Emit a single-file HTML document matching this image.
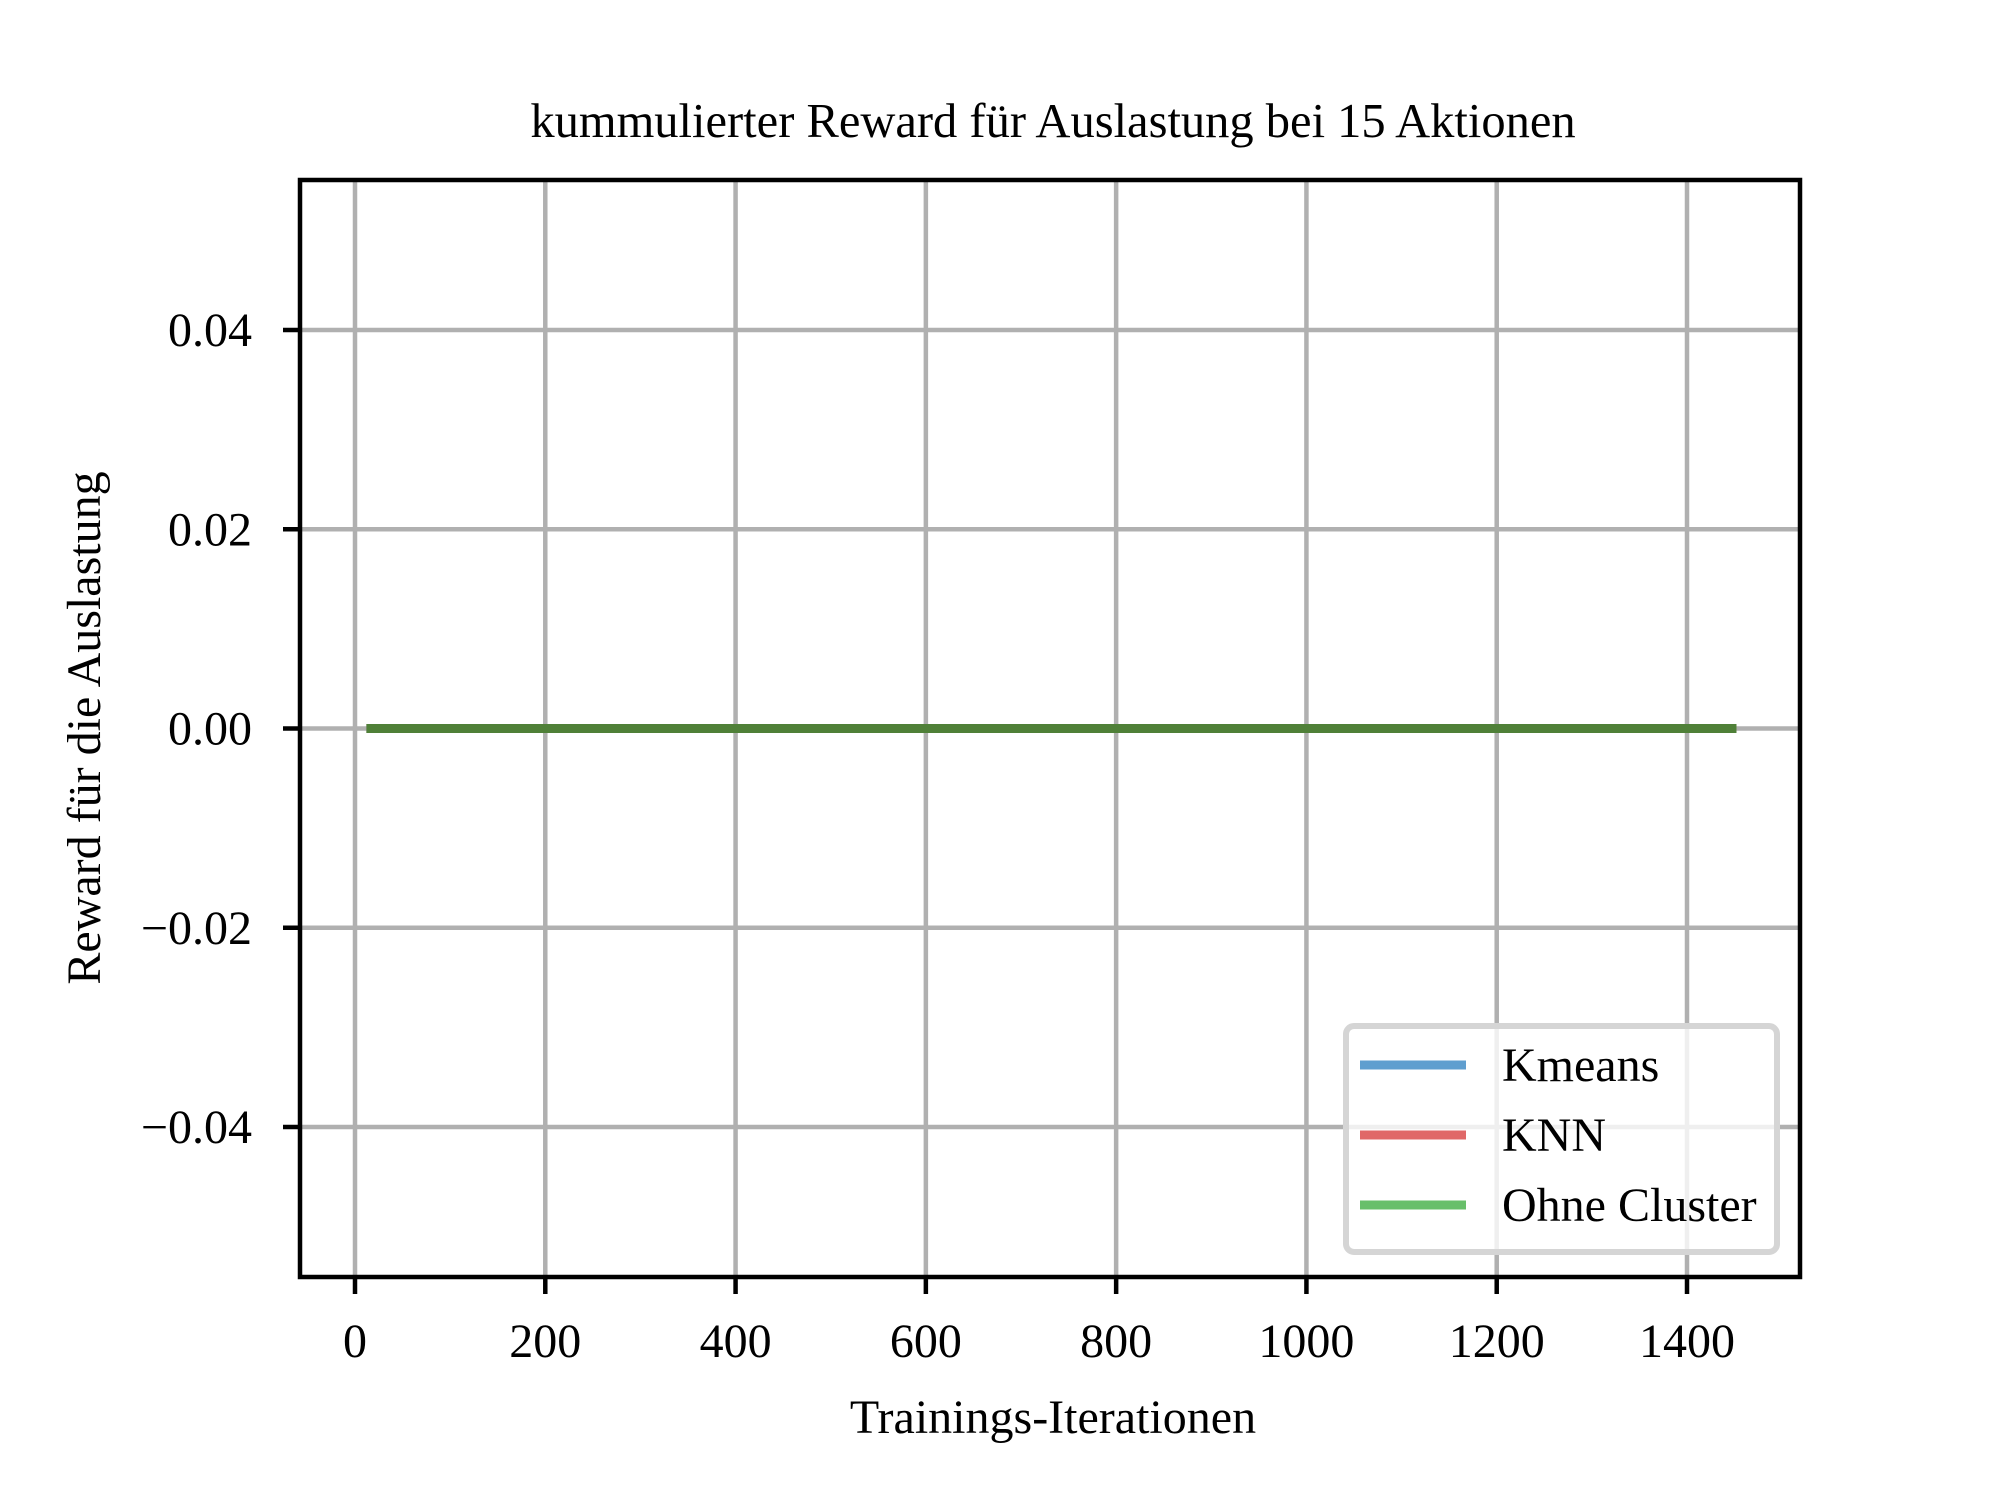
<!DOCTYPE html>
<html><head><meta charset="utf-8"><style>
html,body{margin:0;padding:0;background:#fff}
svg{display:block}
text{font-family:"Liberation Serif","DejaVu Serif",serif;fill:#000}
</style></head><body>
<svg id="chart" width="2000" height="1500" viewBox="0 0 2000 1500">
<text x="1053" y="137" font-size="48.5" text-anchor="middle">kummulierter Reward für Auslastung bei 15 Aktionen</text>
<g id="grid"></g>
<g id="series"></g>
<rect x="300" y="180" width="1500" height="1097" fill="none" stroke="#000" stroke-width="4.5"/>
<g id="ticks"></g>
<text x="1053" y="1433" font-size="48" text-anchor="middle">Trainings-Iterationen</text>
<text transform="translate(100,728) rotate(-90)" font-size="48" text-anchor="middle">Reward für die Auslastung</text>
<g>
<rect x="1346" y="1026" width="431" height="226" rx="8" fill="#fff" fill-opacity="0.8" stroke="#d5d5d5" stroke-width="6"/>
<line x1="1360" y1="1065" x2="1466" y2="1065" stroke="#5f9ecf" stroke-width="9"/>
<text x="1502" y="1081" font-size="48">Kmeans</text>
<line x1="1360" y1="1135" x2="1466" y2="1135" stroke="#e06868" stroke-width="9"/>
<text x="1502" y="1151" font-size="48">KNN</text>
<line x1="1360" y1="1205" x2="1466" y2="1205" stroke="#68bf6a" stroke-width="9"/>
<text x="1502" y="1221" font-size="48">Ohne Cluster</text>
</g>
</svg>
<script>
const xTicks=[0,200,400,600,800,1000,1200,1400];
const yTicks=[0.04,0.02,0.00,-0.02,-0.04];
const yTickLabels=["0.04","0.02","0.00","\u22120.02","\u22120.04"];
const iterations=[12,200,400,600,800,1000,1200,1452];
const kmeansValues=[0,0,0,0,0,0,0,0];
const knnValues=[0,0,0,0,0,0,0,0];
const ohneValues=[0,0,0,0,0,0,0,0];
const NS="http://www.w3.org/2000/svg";
const L=300,R=1800,T=180,B=1277;
function xs(v){return 355+v*(1687-355)/1400;}
function ys(v){return 728.5-v*(398.5/0.04);}
function mk(tag,a,p){const e=document.createElementNS(NS,tag);for(const k in a)e.setAttribute(k,a[k]);p.appendChild(e);return e;}
const grid=document.getElementById('grid'),ticks=document.getElementById('ticks'),series=document.getElementById('series');
xTicks.forEach(v=>{const x=xs(v);
 const g=mk('line',{x1:x,x2:x,y1:T,y2:B,stroke:'#b0b0b0','stroke-width':4.5},grid);
 
 
 const t=mk('line',{x1:x,x2:x,y1:B,y2:B+17,stroke:'#000','stroke-width':4.5},ticks);
 
 
 const l=mk('text',{x:x,y:B+80,'font-size':48,'text-anchor':'middle'},ticks);l.textContent=v;
 
 
});
yTicks.forEach((v,i)=>{const y=ys(v);
 const g=mk('line',{x1:L,x2:R,y1:y,y2:y,stroke:'#b0b0b0','stroke-width':4.5},grid);
 
 
 const t=mk('line',{x1:L-17,x2:L,y1:y,y2:y,stroke:'#000','stroke-width':4.5},ticks);
 
 
 const l=mk('text',{x:L-48,y:y+16,'font-size':48,'text-anchor':'end'},ticks);l.textContent=yTickLabels[i];
 
 
});
function draw(vals,color,name){
 const d=iterations.map((x,i)=>(i?'L':'M')+xs(x)+' '+ys(vals[i])).join(' ');
 const p=mk('path',{d:d,fill:'none',stroke:color,'stroke-width':9},series);
 
 
}
draw(kmeansValues,'#5f9ecf','kmeans-line');
draw(knnValues,'#e06868','knn-line');
draw(ohneValues,'#4f8038','ohne-cluster-line');
</script>
</body></html>
